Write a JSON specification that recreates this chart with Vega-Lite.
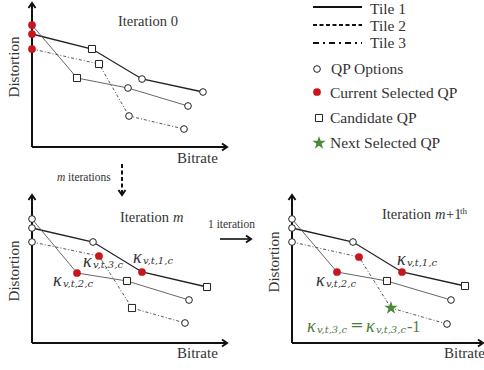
{
  "$schema": "https://vega.github.io/schema/vega-lite/v6.json",
  "width": 484,
  "height": 370,
  "autosize": {"type": "none"},
  "padding": 0,
  "config": {"view": {"stroke": null}, "text": {"font": "Liberation Serif"}},
  "datasets": {
    "rules": [
      {"x": 32, "y": 147, "x2": 32, "y2": 3, "kind": "axis"},
      {"x": 32, "y": 147, "x2": 226, "y2": 147, "kind": "axis"},
      {"x": 32, "y": 343, "x2": 32, "y2": 195, "kind": "axis"},
      {"x": 32, "y": 343, "x2": 226, "y2": 343, "kind": "axis"},
      {"x": 292, "y": 343, "x2": 292, "y2": 195, "kind": "axis"},
      {"x": 292, "y": 343, "x2": 483, "y2": 343, "kind": "axis"},
      {"x": 220, "y": 239, "x2": 250, "y2": 239, "kind": "arrow"},
      {"x": 122, "y": 164, "x2": 122, "y2": 194, "kind": "dashed"},
      {"x": 313, "y": 7, "x2": 362, "y2": 7, "kind": "tile1"},
      {"x": 313, "y": 25, "x2": 362, "y2": 25, "kind": "tile2"},
      {"x": 313, "y": 43, "x2": 362, "y2": 43, "kind": "tile3"}
    ],
    "heads": [
      {"x": 32, "y": 3, "dir": "up"},
      {"x": 32, "y": 195, "dir": "up"},
      {"x": 292, "y": 195, "dir": "up"},
      {"x": 227, "y": 147, "dir": "right"},
      {"x": 227, "y": 343, "dir": "right"},
      {"x": 483, "y": 343, "dir": "right"},
      {"x": 251, "y": 239, "dir": "right"},
      {"x": 122, "y": 195, "dir": "down"}
    ],
    "lines": [
      {"panel": "P1", "tile": "Tile 1", "step": 0, "x": 32, "y": 34},
      {"panel": "P1", "tile": "Tile 1", "step": 1, "x": 92, "y": 49},
      {"panel": "P1", "tile": "Tile 1", "step": 2, "x": 142, "y": 79},
      {"panel": "P1", "tile": "Tile 1", "step": 3, "x": 203, "y": 92},
      {"panel": "P1", "tile": "Tile 2", "step": 0, "x": 32, "y": 25},
      {"panel": "P1", "tile": "Tile 2", "step": 1, "x": 77, "y": 78},
      {"panel": "P1", "tile": "Tile 2", "step": 2, "x": 128, "y": 88},
      {"panel": "P1", "tile": "Tile 2", "step": 3, "x": 188, "y": 106},
      {"panel": "P1", "tile": "Tile 3", "step": 0, "x": 32, "y": 49},
      {"panel": "P1", "tile": "Tile 3", "step": 1, "x": 99, "y": 64},
      {"panel": "P1", "tile": "Tile 3", "step": 2, "x": 129, "y": 116},
      {"panel": "P1", "tile": "Tile 3", "step": 3, "x": 184, "y": 129},
      {"panel": "P2", "tile": "Tile 1", "step": 0, "x": 32, "y": 228},
      {"panel": "P2", "tile": "Tile 1", "step": 1, "x": 93, "y": 242},
      {"panel": "P2", "tile": "Tile 1", "step": 2, "x": 142, "y": 272},
      {"panel": "P2", "tile": "Tile 1", "step": 3, "x": 207, "y": 287},
      {"panel": "P2", "tile": "Tile 2", "step": 0, "x": 32, "y": 219},
      {"panel": "P2", "tile": "Tile 2", "step": 1, "x": 77, "y": 273},
      {"panel": "P2", "tile": "Tile 2", "step": 2, "x": 127, "y": 281},
      {"panel": "P2", "tile": "Tile 2", "step": 3, "x": 189, "y": 300},
      {"panel": "P2", "tile": "Tile 3", "step": 0, "x": 32, "y": 242},
      {"panel": "P2", "tile": "Tile 3", "step": 1, "x": 99, "y": 256},
      {"panel": "P2", "tile": "Tile 3", "step": 2, "x": 132, "y": 308},
      {"panel": "P2", "tile": "Tile 3", "step": 3, "x": 185, "y": 323},
      {"panel": "P3", "tile": "Tile 1", "step": 0, "x": 292, "y": 228},
      {"panel": "P3", "tile": "Tile 1", "step": 1, "x": 353, "y": 242},
      {"panel": "P3", "tile": "Tile 1", "step": 2, "x": 402, "y": 272},
      {"panel": "P3", "tile": "Tile 1", "step": 3, "x": 465, "y": 286},
      {"panel": "P3", "tile": "Tile 2", "step": 0, "x": 292, "y": 219},
      {"panel": "P3", "tile": "Tile 2", "step": 1, "x": 337, "y": 272},
      {"panel": "P3", "tile": "Tile 2", "step": 2, "x": 387, "y": 281},
      {"panel": "P3", "tile": "Tile 2", "step": 3, "x": 451, "y": 300},
      {"panel": "P3", "tile": "Tile 3", "step": 0, "x": 292, "y": 242},
      {"panel": "P3", "tile": "Tile 3", "step": 1, "x": 359, "y": 257},
      {"panel": "P3", "tile": "Tile 3", "step": 2, "x": 391, "y": 308},
      {"panel": "P3", "tile": "Tile 3", "step": 3, "x": 447, "y": 324}
    ],
    "markers": [
      {"kind": "option", "x": 142, "y": 79},
      {"kind": "option", "x": 203, "y": 92},
      {"kind": "option", "x": 128, "y": 88},
      {"kind": "option", "x": 188, "y": 106},
      {"kind": "option", "x": 129, "y": 116},
      {"kind": "option", "x": 184, "y": 129},
      {"kind": "option", "x": 32, "y": 219},
      {"kind": "option", "x": 32, "y": 228},
      {"kind": "option", "x": 32, "y": 242},
      {"kind": "option", "x": 93, "y": 242},
      {"kind": "option", "x": 189, "y": 300},
      {"kind": "option", "x": 185, "y": 323},
      {"kind": "option", "x": 292, "y": 219},
      {"kind": "option", "x": 292, "y": 228},
      {"kind": "option", "x": 292, "y": 242},
      {"kind": "option", "x": 353, "y": 242},
      {"kind": "option", "x": 451, "y": 300},
      {"kind": "option", "x": 447, "y": 324},
      {"kind": "option", "x": 317, "y": 69},
      {"kind": "current", "x": 32, "y": 25},
      {"kind": "current", "x": 32, "y": 34},
      {"kind": "current", "x": 32, "y": 49},
      {"kind": "current", "x": 142, "y": 272},
      {"kind": "current", "x": 77, "y": 273},
      {"kind": "current", "x": 99, "y": 256},
      {"kind": "current", "x": 402, "y": 272},
      {"kind": "current", "x": 337, "y": 272},
      {"kind": "current", "x": 359, "y": 257},
      {"kind": "current", "x": 317, "y": 92},
      {"kind": "candidate", "x": 92, "y": 49},
      {"kind": "candidate", "x": 77, "y": 78},
      {"kind": "candidate", "x": 99, "y": 64},
      {"kind": "candidate", "x": 207, "y": 287},
      {"kind": "candidate", "x": 127, "y": 281},
      {"kind": "candidate", "x": 132, "y": 308},
      {"kind": "candidate", "x": 465, "y": 286},
      {"kind": "candidate", "x": 387, "y": 281},
      {"kind": "candidate", "x": 319, "y": 118},
      {"kind": "next", "x": 391, "y": 308},
      {"kind": "next", "x": 319, "y": 143}
    ],
    "texts": [
      {"kind": "title", "text": "Iteration 0", "x": 118, "y": 22},
      {"kind": "title", "text": "Iteration", "x": 120, "y": 218},
      {"kind": "titleIt", "text": "m", "x": 173, "y": 218},
      {"kind": "title", "text": "Iteration", "x": 382, "y": 215},
      {"kind": "titleIt", "text": "m", "x": 435, "y": 215},
      {"kind": "title", "text": "+1", "x": 446, "y": 215},
      {"kind": "sup", "text": "th", "x": 460, "y": 211},
      {"kind": "axisV", "text": "Distortion", "x": 14, "y": 67},
      {"kind": "axisV", "text": "Distortion", "x": 14, "y": 271},
      {"kind": "axisV", "text": "Distortion", "x": 274, "y": 262},
      {"kind": "axisH", "text": "Bitrate", "x": 177, "y": 158},
      {"kind": "axisH", "text": "Bitrate", "x": 177, "y": 353},
      {"kind": "axisH", "text": "Bitrate", "x": 444, "y": 353},
      {"kind": "legend", "text": "Tile 1", "x": 370, "y": 9},
      {"kind": "legend", "text": "Tile 2", "x": 370, "y": 26},
      {"kind": "legend", "text": "Tile 3", "x": 370, "y": 43},
      {"kind": "legend", "text": "QP Options", "x": 331, "y": 69},
      {"kind": "legend", "text": "Current Selected QP", "x": 330, "y": 93},
      {"kind": "legend", "text": "Candidate QP", "x": 330, "y": 118},
      {"kind": "legend", "text": "Next Selected QP", "x": 330, "y": 143},
      {"kind": "smallIt", "text": "m", "x": 57, "y": 178},
      {"kind": "small", "text": "iterations", "x": 68, "y": 178},
      {"kind": "small", "text": "1 iteration", "x": 208, "y": 225},
      {"kind": "eqn", "text": "=", "x": 357, "y": 325},
      {"kind": "eqnMinus", "text": "-1", "x": 407, "y": 327}
    ],
    "kappa": [
      {"grp": "plot", "sub": "v,t,3,c", "x": 83, "y": 262},
      {"grp": "plot", "sub": "v,t,1,c", "x": 133, "y": 258},
      {"grp": "plot", "sub": "v,t,2,c", "x": 53, "y": 281},
      {"grp": "plot", "sub": "v,t,1,c", "x": 397, "y": 260},
      {"grp": "plot", "sub": "v,t,2,c", "x": 316, "y": 281},
      {"grp": "eq", "sub": "v,t,3,c", "x": 307, "y": 327},
      {"grp": "eq", "sub": "v,t,3,c", "x": 366, "y": 327}
    ]
  },
  "encoding": {
    "x": {"field": "x", "type": "quantitative", "scale": {"domain": [0, 484], "nice": false, "zero": false}, "axis": null},
    "y": {"field": "y", "type": "quantitative", "scale": {"domain": [0, 370], "nice": false, "zero": false, "reverse": true}, "axis": null}
  },
  "layer": [
    {"data": {"name": "rules"}, "transform": [{"filter": "datum.kind === 'axis'"}],
     "mark": {"type": "rule", "strokeWidth": 2, "color": "#111"},
     "encoding": {"x2": {"field": "x2"}, "y2": {"field": "y2"}}},
    {"data": {"name": "rules"}, "transform": [{"filter": "datum.kind === 'arrow'"}],
     "mark": {"type": "rule", "strokeWidth": 1.6, "color": "#111"},
     "encoding": {"x2": {"field": "x2"}, "y2": {"field": "y2"}}},
    {"data": {"name": "rules"}, "transform": [{"filter": "datum.kind === 'dashed'"}],
     "mark": {"type": "rule", "strokeWidth": 2, "color": "#111", "strokeDash": [4, 2.5]},
     "encoding": {"x2": {"field": "x2"}, "y2": {"field": "y2"}}},
    {"data": {"name": "rules"}, "transform": [{"filter": "datum.kind === 'tile1'"}],
     "mark": {"type": "rule", "strokeWidth": 1.8, "color": "#111"},
     "encoding": {"x2": {"field": "x2"}, "y2": {"field": "y2"}}},
    {"data": {"name": "rules"}, "transform": [{"filter": "datum.kind === 'tile2'"}],
     "mark": {"type": "rule", "strokeWidth": 1.8, "color": "#111", "strokeDash": [4, 2.5]},
     "encoding": {"x2": {"field": "x2"}, "y2": {"field": "y2"}}},
    {"data": {"name": "rules"}, "transform": [{"filter": "datum.kind === 'tile3'"}],
     "mark": {"type": "rule", "strokeWidth": 1.8, "color": "#111", "strokeDash": [6, 4, 2, 4]},
     "encoding": {"x2": {"field": "x2"}, "y2": {"field": "y2"}}},
    {"data": {"name": "heads"}, "transform": [{"filter": "datum.dir === 'up'"}],
     "mark": {"type": "point", "shape": "M-0.7,1L0,0L0.7,1", "size": 100, "filled": false, "stroke": "#111", "strokeWidth": 2, "opacity": 1}},
    {"data": {"name": "heads"}, "transform": [{"filter": "datum.dir === 'right'"}],
     "mark": {"type": "point", "shape": "M-1,-0.7L0,0L-1,0.7", "size": 100, "filled": false, "stroke": "#111", "strokeWidth": 2, "opacity": 1}},
    {"data": {"name": "heads"}, "transform": [{"filter": "datum.dir === 'down'"}],
     "mark": {"type": "point", "shape": "M-0.7,-1L0,0L0.7,-1", "size": 100, "filled": false, "stroke": "#111", "strokeWidth": 2, "opacity": 1}},
    {"data": {"name": "lines"}, "transform": [{"filter": "datum.tile === 'Tile 1'"}],
     "mark": {"type": "line", "strokeWidth": 1.3, "color": "#222"},
     "encoding": {"order": {"field": "step"}, "detail": {"field": "panel"}}},
    {"data": {"name": "lines"}, "transform": [{"filter": "datum.tile === 'Tile 2'"}],
     "mark": {"type": "line", "strokeWidth": 0.9, "color": "#555"},
     "encoding": {"order": {"field": "step"}, "detail": {"field": "panel"}}},
    {"data": {"name": "lines"}, "transform": [{"filter": "datum.tile === 'Tile 3'"}],
     "mark": {"type": "line", "strokeWidth": 0.9, "color": "#444", "strokeDash": [3, 2, 1, 2]},
     "encoding": {"order": {"field": "step"}, "detail": {"field": "panel"}}},
    {"data": {"name": "markers"}, "transform": [{"filter": "datum.kind === 'option'"}],
     "mark": {"type": "point", "shape": "circle", "size": 45, "filled": true, "fill": "white", "stroke": "#222", "strokeWidth": 1, "opacity": 1}},
    {"data": {"name": "markers"}, "transform": [{"filter": "datum.kind === 'current'"}],
     "mark": {"type": "point", "shape": "circle", "size": 60, "filled": true, "fill": "#c8161d", "stroke": null, "opacity": 1}},
    {"data": {"name": "markers"}, "transform": [{"filter": "datum.kind === 'candidate'"}],
     "mark": {"type": "point", "shape": "square", "size": 50, "filled": true, "fill": "white", "stroke": "#222", "strokeWidth": 1, "opacity": 1}},
    {"data": {"name": "markers"}, "transform": [{"filter": "datum.kind === 'next'"}],
     "mark": {"type": "point", "shape": "M0,-1L0.225,-0.309L0.951,-0.309L0.363,0.118L0.588,0.809L0,0.382L-0.588,0.809L-0.363,0.118L-0.951,-0.309L-0.225,-0.309Z", "size": 200, "filled": true, "fill": "#4a8a3a", "stroke": null, "opacity": 1}},
    {"data": {"name": "texts"}, "transform": [{"filter": "datum.kind === 'title'"}],
     "mark": {"type": "text", "align": "left", "baseline": "middle", "fontSize": 14.5, "color": "#333"},
     "encoding": {"text": {"field": "text"}}},
    {"data": {"name": "texts"}, "transform": [{"filter": "datum.kind === 'titleIt'"}],
     "mark": {"type": "text", "align": "left", "baseline": "middle", "fontSize": 14.5, "fontStyle": "italic", "color": "#333"},
     "encoding": {"text": {"field": "text"}}},
    {"data": {"name": "texts"}, "transform": [{"filter": "datum.kind === 'sup'"}],
     "mark": {"type": "text", "align": "left", "baseline": "middle", "fontSize": 9, "color": "#333"},
     "encoding": {"text": {"field": "text"}}},
    {"data": {"name": "texts"}, "transform": [{"filter": "datum.kind === 'axisV'"}],
     "mark": {"type": "text", "align": "center", "baseline": "middle", "fontSize": 15, "angle": 270, "color": "#333"},
     "encoding": {"text": {"field": "text"}}},
    {"data": {"name": "texts"}, "transform": [{"filter": "datum.kind === 'axisH'"}],
     "mark": {"type": "text", "align": "left", "baseline": "middle", "fontSize": 15, "color": "#333"},
     "encoding": {"text": {"field": "text"}}},
    {"data": {"name": "texts"}, "transform": [{"filter": "datum.kind === 'legend'"}],
     "mark": {"type": "text", "align": "left", "baseline": "middle", "fontSize": 15.5, "color": "#333"},
     "encoding": {"text": {"field": "text"}}},
    {"data": {"name": "texts"}, "transform": [{"filter": "datum.kind === 'small'"}],
     "mark": {"type": "text", "align": "left", "baseline": "middle", "fontSize": 11.5, "color": "#333"},
     "encoding": {"text": {"field": "text"}}},
    {"data": {"name": "texts"}, "transform": [{"filter": "datum.kind === 'smallIt'"}],
     "mark": {"type": "text", "align": "left", "baseline": "middle", "fontSize": 11.5, "fontStyle": "italic", "color": "#333"},
     "encoding": {"text": {"field": "text"}}},
    {"data": {"name": "texts"}, "transform": [{"filter": "datum.kind === 'eqn'"}],
     "mark": {"type": "text", "align": "center", "baseline": "middle", "fontSize": 16, "font": "DejaVu Serif", "color": "#4d7c3a"},
     "encoding": {"text": {"field": "text"}}},
    {"data": {"name": "texts"}, "transform": [{"filter": "datum.kind === 'eqnMinus'"}],
     "mark": {"type": "text", "align": "left", "baseline": "middle", "fontSize": 16, "color": "#4d7c3a"},
     "encoding": {"text": {"field": "text"}}},
    {"data": {"name": "kappa"},
     "mark": {"type": "text", "text": "κ", "align": "left", "baseline": "middle", "fontSize": 18, "font": "Liberation Serif", "fontStyle": "italic"},
     "encoding": {"color": {"field": "grp", "type": "nominal", "scale": {"domain": ["plot", "eq"], "range": ["#333333", "#4d7c3a"]}, "legend": null}}},
    {"data": {"name": "kappa"},
     "mark": {"type": "text", "align": "left", "baseline": "middle", "fontSize": 10, "font": "DejaVu Serif", "fontStyle": "italic", "dx": 10, "dy": 3},
     "encoding": {"text": {"field": "sub"}, "color": {"field": "grp", "type": "nominal", "scale": {"domain": ["plot", "eq"], "range": ["#333333", "#4d7c3a"]}, "legend": null}}}
  ]
}
